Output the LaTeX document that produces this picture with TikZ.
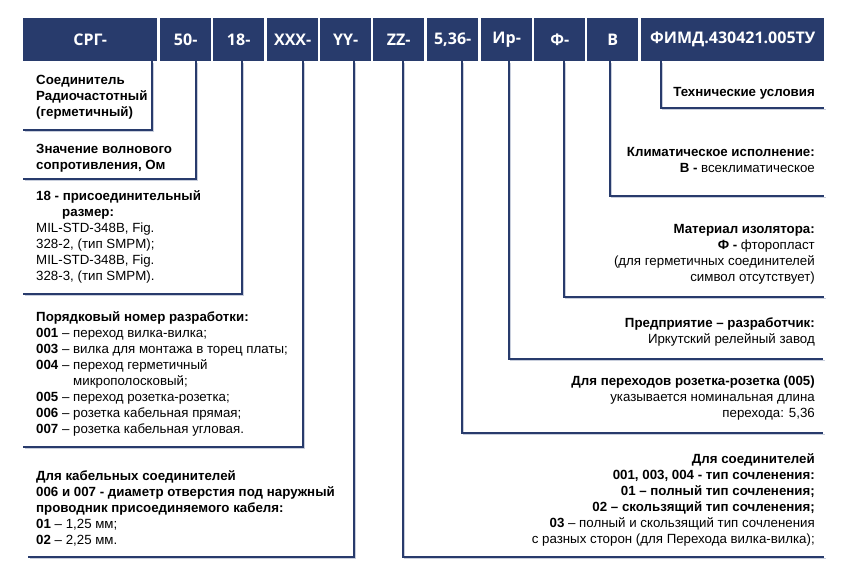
\documentclass[tikz,border=0pt]{standalone}
\usepackage{fontspec}
\setmainfont{Liberation Sans}
\newfontfamily\headfont{Open Sans}
\definecolor{navy}{RGB}{40,59,108}
\definecolor{shade}{RGB}{200,206,220}
\newcommand{\firstline}{\rule{0pt}{11pt}}
\begin{document}
\begin{tikzpicture}[x=1pt,y=-1pt,
  hbox/.style={fill=navy, minimum height=43pt, inner sep=0pt, text=white,
    font=\headfont\bfseries\fontsize{16}{19}\selectfont, anchor=north west},
  conn/.style={draw=navy, line width=1.8pt,
    preaction={draw=shade, line width=1.6pt, transform canvas={shift={(1.5pt,-1.5pt)}}}},
  ltxt/.style={anchor=north west, align=left, inner sep=0pt,
    font=\fontsize{13.3}{16}\selectfont, execute at begin node=\firstline},
  rtxt/.style={anchor=north east, align=right, inner sep=0pt,
    font=\fontsize{13.3}{16}\selectfont, execute at begin node=\firstline}]
\useasboundingbox (0,0) rectangle (867,568);
\fill[white] (0,0) rectangle (867,568);

% header boxes
\node[hbox, minimum width=134pt] (srg) at (23,18) {СРГ-};
\node[hbox, minimum width=51pt] (h50) at (160,18) {50-};
\node[hbox, minimum width=51pt] (h18) at (213,18) {18-};
\node[hbox, minimum width=51pt] (hxxx) at (267,18) {XXX-};
\node[hbox, minimum width=51pt] (hyy) at (320,18) {YY-};
\node[hbox, minimum width=51pt] (hzz) at (373,18) {ZZ-};
\node[hbox, minimum width=51pt] (h536) at (427,18) {5,36-};
\node[hbox, minimum width=51pt] (hir) at (481,18) {Ир-};
\node[hbox, minimum width=51pt] (hf) at (534,18) {Ф-};
\node[hbox, minimum width=51pt] (hv) at (587,18) {В};
\node[hbox, minimum width=183pt] (htu) at (641,18) {ФИМД.430421.005ТУ};

% corner and end coordinates
\coordinate (c1) at (152,130);  \coordinate (e1) at (23,130);
\coordinate (c2) at (196,179);  \coordinate (e2) at (23,179);
\coordinate (c3) at (242,294);  \coordinate (e3) at (23,294);
\coordinate (c4) at (303,447);  \coordinate (e4) at (23,447);
\coordinate (c5) at (354,557);  \coordinate (e5) at (28,557);
\coordinate (c6) at (403,557);  \coordinate (e6) at (824,557);
\coordinate (c7) at (462,433);  \coordinate (e7) at (823,433);
\coordinate (c8) at (509,359);  \coordinate (e8) at (823,359);
\coordinate (c9) at (564,297);  \coordinate (e9) at (824,297);
\coordinate (c10) at (610,196); \coordinate (e10) at (824,196);
\coordinate (c11) at (661,108); \coordinate (e11) at (824,108);

% connectors
\draw[conn] (srg.south -| c1) -- (c1) -- (e1);
\draw[conn] (h50.south -| c2) -- (c2) -- (e2);
\draw[conn] (h18.south -| c3) -- (c3) -- (e3);
\draw[conn] (hxxx.south -| c4) -- (c4) -- (e4);
\draw[conn] (hyy.south -| c5) -- (c5) -- (e5);
\draw[conn] (hzz.south -| c6) -- (c6) -- (e6);
\draw[conn] (h536.south -| c7) -- (c7) -- (e7);
\draw[conn] (hir.south -| c8) -- (c8) -- (e8);
\draw[conn] (hf.south -| c9) -- (c9) -- (e9);
\draw[conn] (hv.south -| c10) -- (c10) -- (e10);
\draw[conn] (htu.south -| c11) -- (c11) -- (e11);

% left texts
\node[ltxt] (t1) at (36,75.5) {\textbf{Соединитель}\\\textbf{Радиочастотный}\\\textbf{(герметичный)}};
\node[ltxt] (t2) at (36,144.5) {\textbf{Значение волнового}\\\textbf{сопротивления, Ом}};
\node[ltxt] (t3) at (36,190.5) {\textbf{18 - присоединительный}\\\hspace*{26pt}\textbf{размер:}\\MIL-STD-348B, Fig.\\328-2, (тип SMPM);\\MIL-STD-348B, Fig.\\328-3, (тип SMPM).};
\node[ltxt] (t4) at (36,311.5) {\textbf{Порядковый номер разработки:}\\\textbf{001} – переход вилка-вилка;\\\textbf{003} – вилка для монтажа в торец платы;\\\textbf{004} – переход герметичный\\\hspace*{37pt}микрополосковый;\\\textbf{005} – переход розетка-розетка;\\\textbf{006} – розетка кабельная прямая;\\\textbf{007} – розетка кабельная угловая.};
\node[ltxt] (t5) at (36,470.5) {\textbf{Для кабельных соединителей}\\\textbf{006 и 007 - диаметр отверстия под наружный}\\\textbf{проводник присоединяемого кабеля:}\\\textbf{01} – 1,25 мм;\\\textbf{02} – 2,25 мм.};

% right texts
\node[rtxt] (t11) at (815,85) {\textbf{Технические условия}};
\node[rtxt] (t10) at (815,147.5) {\textbf{Климатическое исполнение:}\\\textbf{В -} всеклиматическое};
\node[rtxt] (t9) at (815,224.5) {\textbf{Материал изолятора:}\\\textbf{Ф -} фторопласт\\(для герметичных соединителей\\символ отсутствует)};
\node[rtxt] (t8) at (815,317.5) {\textbf{Предприятие – разработчик:}\\Иркутский релейный завод};
\node[rtxt] (t7) at (815,375.5) {\textbf{Для переходов розетка-розетка (005)}\\указывается номинальная длина\\перехода: 5,36};
\node[rtxt] (t6) at (815,453.5) {\textbf{Для соединителей}\\\textbf{001, 003, 004 - тип сочленения:}\\\textbf{01 – полный тип сочленения;}\\\textbf{02 – скользящий тип сочленения;}\\\textbf{03} – полный и скользящий тип сочленения\\с разных сторон (для Перехода вилка-вилка);};
\end{tikzpicture}
\end{document}
